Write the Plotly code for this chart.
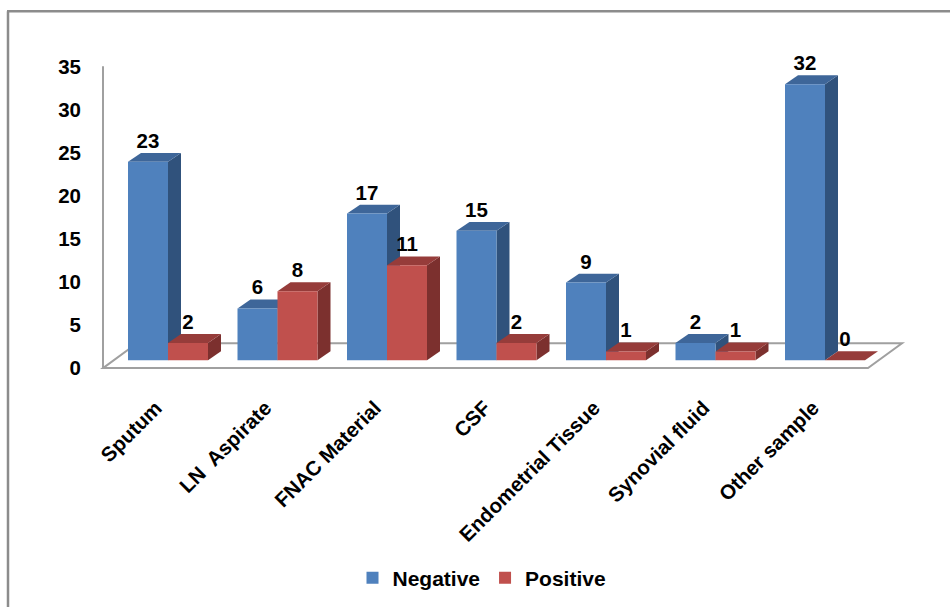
import plotly.graph_objects as go

# ---- data ----
categories = ["Sputum", "LN  Aspirate", "FNAC Material", "CSF",
              "Endometrial Tissue", "Synovial fluid", "Other sample"]
negative = [23, 6, 17, 15, 9, 2, 32]
positive = [2, 8, 11, 2, 1, 1, 0]
y_ticks = [0, 5, 10, 15, 20, 25, 30, 35]

series = [
    ("Negative", negative, "#4F81BD", "#3E6699", "#30527C"),
    ("Positive", positive, "#C0504D", "#963C3A", "#7C302E"),
]

# ---- layout geometry ----
W, H = 950, 610
L, R, T, B = 100, 910, 50, 380          # plot area in pixels
band_px = 109.5                          # pixels per category
unit_px = 8.7                            # pixels per value unit
first_center_px = 168
zero_px = 363

x_range = [(L - first_center_px) / band_px, (R - first_center_px) / band_px]
y_range = [(zero_px - B) / unit_px, (zero_px - T) / unit_px]

bar_w = 40 / band_px                     # width of one bar
depth_dx = 13 / band_px                  # 3-D depth of a bar
depth_dy = 9 / unit_px
floor_drop = 8 / unit_px                 # floor front edge sits below bar bases
floor_dx = 34 / band_px
floor_dy = 25 / unit_px
floor_left = (103 - first_center_px) / band_px
floor_right = len(categories) - 1 + (868 - first_center_px - (len(categories) - 1) * band_px) / band_px

y2_range = [y_range[0] + floor_drop, y_range[1] + floor_drop]

def px_x(p):
    return (p - L) / (R - L)

def px_y(p):
    return (B - p) / (B - T)

fig = go.Figure()
shapes = []
grey = "#A0A0A0"

# floor and wall edges
line_style = dict(color=grey, width=2)
shapes += [
    dict(type="line", xref="x", yref="y2", x0=floor_left, y0=0, x1=floor_left, y1=y_ticks[-1],
         line=line_style, layer="below"),
    dict(type="path", xref="x", yref="y2", layer="below", line=line_style,
         path=(f"M{floor_left},0 L{floor_right},0 L{floor_right + floor_dx},{floor_dy} "
               f"L{floor_left + floor_dx},{floor_dy} Z")),
]

x_pos = list(range(len(categories)))

for k, (name, vals, front, top, side) in enumerate(series):
    offset = -bar_w if k == 0 else 0.0
    fig.add_trace(go.Bar(
        x=x_pos, y=vals, name=name, width=bar_w, offset=offset,
        marker=dict(color=front, line=dict(width=0)),
        hoverinfo="x+y",
    ))

# side and top faces, left series first so the right series overlaps it
for k, (name, vals, front, top, side) in enumerate(series):
    offset = -bar_w if k == 0 else 0.0
    for i, v in enumerate(vals):
        a = x_pos[i] + offset
        b = a + bar_w
        shapes.append(dict(
            type="path", xref="x", yref="y", layer="below", fillcolor=side, line=dict(width=0),
            path=f"M{b},0 L{b},{v} L{b + depth_dx},{v + depth_dy} L{b + depth_dx},{depth_dy} Z"))
        shapes.append(dict(
            type="path", xref="x", yref="y", layer="below", fillcolor=top, line=dict(width=0),
            path=f"M{a},{v} L{a + depth_dx},{v + depth_dy} L{b + depth_dx},{v + depth_dy} L{b},{v} Z"))

# value labels above each bar
FONT = "Liberation Sans"
label_font = dict(family=FONT, size=20.5, color="black", weight="bold")
for k, (name, vals, front, top, side) in enumerate(series):
    offset = -bar_w if k == 0 else 0.0
    fig.add_trace(go.Scatter(
        x=[x + offset + bar_w / 2 for x in x_pos],
        y=[v + depth_dy for v in vals],
        text=[str(v) for v in vals],
        mode="text", textposition="top center", textfont=label_font,
        showlegend=False, hoverinfo="skip", cliponaxis=False,
    ))

# outer frame (top and left edges)
frame = dict(color="#8C8C8C", width=2.5)
shapes += [
    dict(type="line", xref="paper", yref="paper", x0=px_x(7), y0=px_y(11), x1=px_x(952), y1=px_y(11), line=frame),
    dict(type="line", xref="paper", yref="paper", x0=px_x(8), y0=px_y(11), x1=px_x(8), y1=px_y(612), line=frame),
]

tick_font = dict(family=FONT, size=20.5, color="black", weight="bold")
fig.update_layout(
    width=W, height=H,
    margin=dict(l=L, r=W - R, t=T, b=H - B),
    paper_bgcolor="white", plot_bgcolor="white",
    shapes=shapes,
    barmode="overlay",
    font=dict(family=FONT, size=20, color="black"),
    xaxis=dict(range=x_range, tickvals=x_pos, ticktext=categories, tickangle=-45,
               showgrid=False, zeroline=False, showline=False, ticks="",
               ticklabelstandoff=14, ticklabelshift=-12,
               tickfont=tick_font),
    yaxis=dict(range=y_range, visible=False, showgrid=False, zeroline=False),
    yaxis2=dict(range=y2_range, overlaying="y", side="left", tickvals=y_ticks,
                showgrid=False, zeroline=False, showline=False, ticks="",
                ticklabelstandoff=18, tickfont=tick_font),
    legend=dict(orientation="h", x=px_x(482), y=px_y(583), xanchor="center", yanchor="middle",
                font=dict(family=FONT, size=21, color="black", weight="bold"),
                itemwidth=30, bgcolor="rgba(0,0,0,0)"),
    showlegend=True,
)

# a hidden trace keeps yaxis2 drawn
fig.add_trace(go.Scatter(x=[None], y=[None], yaxis="y2", showlegend=False, hoverinfo="skip"))

fig.write_html("out.html")
